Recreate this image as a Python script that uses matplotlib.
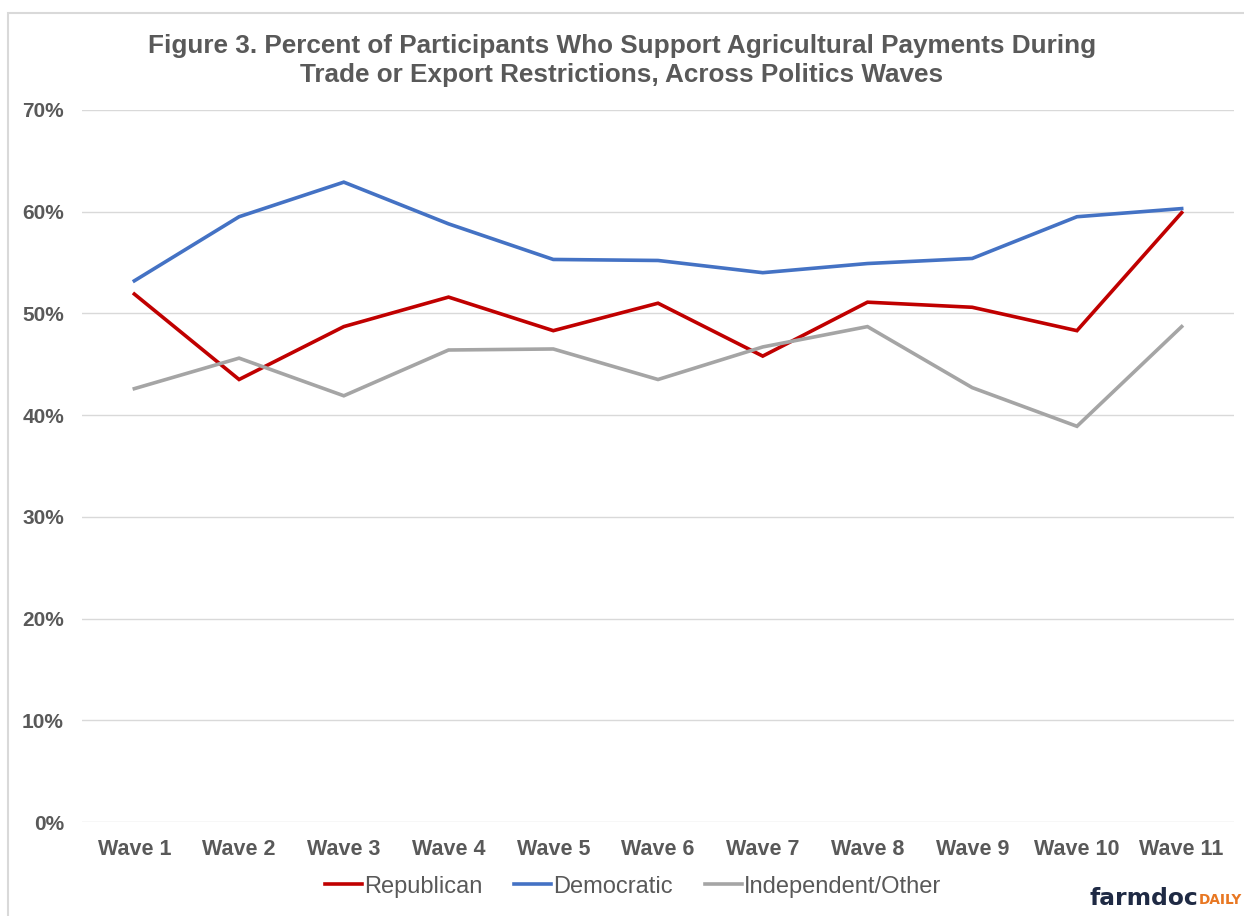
import matplotlib
matplotlib.use('Agg')
import matplotlib.pyplot as plt
import matplotlib.ticker as mtick
from matplotlib.patches import Rectangle

plt.rcParams['font.family'] = ['Liberation Sans', 'DejaVu Sans']

waves = [f'Wave {i}' for i in range(1, 12)]
republican = [51.9, 43.5, 48.7, 51.6, 48.3, 51.0, 45.8, 51.1, 50.6, 48.3, 59.9]
democratic = [53.2, 59.5, 62.9, 58.8, 55.3, 55.2, 54.0, 54.9, 55.4, 59.5, 60.3]
independent = [42.6, 45.6, 41.9, 46.4, 46.5, 43.5, 46.7, 48.7, 42.7, 38.9, 48.7]

series = [
    ('Republican', republican, '#C00000'),
    ('Democratic', democratic, '#4472C4'),
    ('Independent/Other', independent, '#A5A5A5'),
]

fig = plt.figure(figsize=(12.44, 9.16), dpi=100)
ax = fig.add_axes([0.0659, 0.1026, 0.9261, 0.7774])

x = list(range(len(waves)))
for label, vals, color in series:
    ax.plot(x, [v / 100 for v in vals], color=color, linewidth=2.6,
            label=label, solid_joinstyle='miter')

ax.set_xlim(-0.5, len(waves) - 0.5)
ax.set_ylim(0, 0.7)
ax.yaxis.set_major_locator(mtick.MultipleLocator(0.1))
ax.yaxis.set_major_formatter(mtick.PercentFormatter(xmax=1, decimals=0))
ax.set_xticks(x)
ax.set_xticklabels(waves)
ax.grid(axis='y', color='#D9D9D9', linewidth=1)
ax.set_axisbelow(True)
for s in ax.spines.values():
    s.set_visible(False)
ax.tick_params(length=0, labelsize=15.5, labelcolor='#595959', pad=12)
ax.tick_params(axis='y', labelsize=15, pad=13)
for t in ax.get_xticklabels() + ax.get_yticklabels():
    t.set_fontweight('bold')

fig.text(0.5, 0.934,
         'Figure 3. Percent of Participants Who Support Agricultural Payments During\n'
         'Trade or Export Restrictions, Across Politics Waves',
         ha='center', va='center', fontsize=18.8, fontweight='bold',
         color='#595959', linespacing=1.25)

leg = fig.legend(loc='center', bbox_to_anchor=(0.509, 0.032), ncol=3,
                 frameon=False, fontsize=17, handlelength=1.55,
                 handletextpad=0.1, columnspacing=1.35)
for t in leg.get_texts():
    t.set_color('#595959')

fig.patches.append(Rectangle((0.0065, -0.01), 1.1, 0.996, transform=fig.transFigure,
                             fill=False, edgecolor='#D9D9D9', linewidth=1.5))

fig.text(0.876, 0.019, 'farmdoc', ha='left', va='center', fontsize=16.8,
         fontweight='bold', color='#1F2A44', family='DejaVu Sans')
fig.text(0.9635, 0.017, 'DAILY', ha='left', va='center', fontsize=9.8,
         fontweight='bold', color='#E87722', family='DejaVu Sans')

fig.savefig('out.png', dpi=100, facecolor='white')
